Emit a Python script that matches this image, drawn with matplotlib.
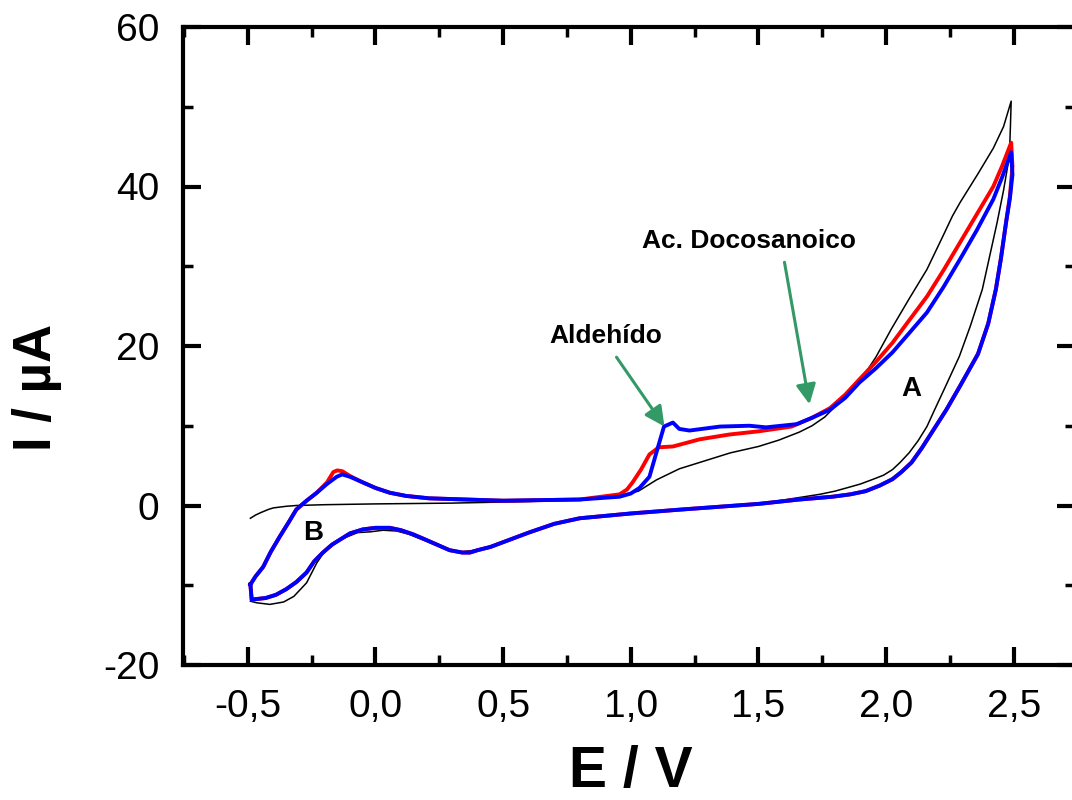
import matplotlib
matplotlib.use("Agg")
import matplotlib.pyplot as plt
from matplotlib.ticker import MultipleLocator, FuncFormatter

plt.rcParams['font.family'] = ['Liberation Sans', 'DejaVu Sans']

# ---- data ----
black_E = [-0.49, -0.47, -0.45, -0.42, -0.40, -0.35, -0.31, -0.20, 0.00, 0.30, 0.60, 0.80, 0.95, 1.03,
           1.10, 1.19, 1.30, 1.39, 1.50, 1.58, 1.66, 1.71, 1.76, 1.80, 1.85, 1.90, 1.96, 2.02, 2.09,
           2.16, 2.22, 2.26, 2.29, 2.36, 2.42, 2.46, 2.49,
           2.487, 2.483, 2.46, 2.435, 2.377, 2.33, 2.287, 2.228, 2.19, 2.16, 2.125, 2.09, 2.055,
           2.025, 1.99, 1.95, 1.90, 1.856, 1.80, 1.74, 1.66,
           1.50, 1.20, 1.00, 0.80, 0.70, 0.60, 0.50, 0.447, 0.39, 0.34, 0.28, 0.185, 0.13, 0.083,
           0.03, -0.02, -0.07, -0.14, -0.20, -0.23, -0.27, -0.32, -0.36, -0.414, -0.465, -0.49]
black_I = [-1.6, -1.2, -0.9, -0.5, -0.3, -0.1, 0.0, 0.1, 0.2, 0.3, 0.5, 0.7, 1.2, 1.8,
           3.2, 4.6, 5.7, 6.6, 7.4, 8.2, 9.2, 10.0, 11.1, 12.4, 13.9, 15.7, 18.6, 22.1, 25.9,
           29.6, 33.6, 36.3, 38.0, 41.6, 44.8, 47.5, 50.7,
           47.5, 43.8, 39.5, 35.5, 27.1, 22.5, 18.7, 14.6, 12.0, 9.9, 8.1, 6.6, 5.4,
           4.5, 3.8, 3.3, 2.7, 2.3, 1.8, 1.4, 1.0,
           0.2, -0.5, -1.0, -1.6, -2.3, -3.4, -4.6, -5.1, -5.6, -5.8, -5.5, -4.3, -3.6, -3.2,
           -3.1, -3.3, -3.4, -4.3, -5.8, -7.2, -9.7, -11.4, -12.1, -12.4, -12.2, -12.0]

red_E = [-0.49, -0.47, -0.44, -0.41, -0.375, -0.34, -0.31, -0.27, -0.23, -0.19, -0.165, -0.15,
         -0.13, -0.10, -0.05, 0.00, 0.056, 0.12, 0.21, 0.50, 0.80,
         0.956, 0.985, 1.007, 1.04, 1.073, 1.11, 1.165, 1.27, 1.386, 1.50, 1.63, 1.71, 1.78,
         1.84, 1.895, 1.96, 2.025, 2.09, 2.16, 2.225, 2.29, 2.355, 2.42, 2.455, 2.49,
         2.495, 2.485, 2.47, 2.45, 2.43, 2.40, 2.36, 2.325, 2.29, 2.236, 2.18, 2.14, 2.10, 2.06,
         2.025, 1.975, 1.92, 1.86, 1.79, 1.66,
         1.50, 1.20, 1.00, 0.80, 0.70, 0.60, 0.50, 0.45, 0.40, 0.37, 0.34, 0.29, 0.24, 0.19,
         0.146, 0.10, 0.056, 0.00, -0.05, -0.10, -0.14, -0.17, -0.206, -0.24, -0.27, -0.31,
         -0.35, -0.39, -0.43, -0.485, -0.49]
red_I = [-9.9, -8.9, -7.7, -5.8, -3.9, -2.1, -0.5, 0.6, 1.6, 2.9, 4.2, 4.4,
         4.3, 3.7, 2.9, 2.2, 1.6, 1.2, 0.9, 0.6, 0.75,
         1.4, 2.0, 2.9, 4.5, 6.4, 7.3, 7.4, 8.3, 8.9, 9.3, 9.9, 11.0, 12.2,
         13.9, 15.8, 18.0, 20.4, 23.2, 26.2, 29.5, 33.0, 36.5, 40.0, 42.6, 45.5,
         42.5, 38.8, 35.5, 31.0, 27.1, 22.8, 19.0, 17.0, 15.0, 12.0, 9.2, 7.2, 5.4, 4.2,
         3.3, 2.5, 1.8, 1.4, 1.1, 0.75,
         0.2, -0.5, -1.0, -1.6, -2.3, -3.4, -4.6, -5.2, -5.6, -5.9, -5.9, -5.6, -4.9, -4.2,
         -3.6, -3.1, -2.8, -2.8, -3.0, -3.5, -4.3, -4.9, -5.9, -7.0, -8.4, -9.6,
         -10.5, -11.2, -11.6, -11.8, -9.9]

blue_E = [-0.49, -0.47, -0.44, -0.41, -0.375, -0.34, -0.31, -0.27, -0.23, -0.19, -0.152, -0.13,
          -0.10, -0.05, 0.00, 0.056, 0.12, 0.21, 0.50, 0.80,
          0.956, 1.00, 1.034, 1.073, 1.10, 1.13, 1.165, 1.19, 1.23, 1.35, 1.465, 1.53, 1.65, 1.71,
          1.78, 1.84, 1.895, 1.96, 2.025, 2.09, 2.16, 2.225, 2.29, 2.355, 2.42, 2.455, 2.49,
          2.495, 2.485, 2.47, 2.45, 2.43, 2.40, 2.36, 2.325, 2.29, 2.236, 2.18, 2.14, 2.10, 2.06,
          2.025, 1.975, 1.92, 1.86, 1.79, 1.66,
          1.50, 1.20, 1.00, 0.80, 0.70, 0.60, 0.50, 0.45, 0.40, 0.37, 0.34, 0.29, 0.24, 0.19,
          0.146, 0.10, 0.056, 0.00, -0.05, -0.10, -0.14, -0.17, -0.206, -0.24, -0.27, -0.31,
          -0.35, -0.39, -0.43, -0.485, -0.49]
blue_I = [-9.9, -8.9, -7.7, -5.8, -3.9, -2.1, -0.5, 0.6, 1.6, 2.7, 3.6, 3.9,
          3.6, 2.9, 2.2, 1.6, 1.2, 0.9, 0.6, 0.75,
          1.1, 1.5, 2.2, 3.6, 6.6, 9.9, 10.4, 9.6, 9.4, 9.9, 10.0, 9.8, 10.2, 11.0,
          12.0, 13.5, 15.4, 17.2, 19.2, 21.6, 24.2, 27.4, 30.9, 34.5, 38.4, 41.2, 44.3,
          41.5, 38.5, 35.5, 31.0, 27.1, 22.8, 19.0, 17.0, 15.0, 12.0, 9.2, 7.2, 5.4, 4.2,
          3.3, 2.5, 1.8, 1.4, 1.1, 0.75,
          0.2, -0.5, -1.0, -1.6, -2.3, -3.4, -4.6, -5.2, -5.6, -5.9, -5.9, -5.6, -4.9, -4.2,
          -3.6, -3.1, -2.8, -2.8, -3.0, -3.5, -4.3, -4.9, -5.9, -7.0, -8.4, -9.6,
          -10.5, -11.2, -11.6, -11.8, -9.9]

x_ticks = [-0.5, 0.0, 0.5, 1.0, 1.5, 2.0, 2.5]
y_ticks = [-20, 0, 20, 40, 60]

# ---- figure ----
fig = plt.figure(figsize=(10.72, 8.0), dpi=100)
ax = fig.add_axes([183/1072, 1-665/800, (1075-183)/1072, (665-27)/800])

ax.plot(black_E, black_I, color='black', lw=1.1, solid_joinstyle='round')
ax.plot(red_E, red_I, color='#ff0000', lw=2.8, solid_joinstyle='round')
ax.plot(blue_E, blue_I, color='#0000ff', lw=2.8, solid_joinstyle='round')

ax.set_xlim(-0.754, 2.74)
ax.set_ylim(-20, 60)
ax.set_xticks(x_ticks)
ax.set_yticks(y_ticks)
ax.xaxis.set_minor_locator(MultipleLocator(0.25))
ax.yaxis.set_minor_locator(MultipleLocator(10))
ax.xaxis.set_major_formatter(FuncFormatter(lambda v, p: f"{v:.1f}".replace('.', ',')))
ax.yaxis.set_major_formatter(FuncFormatter(lambda v, p: f"{v:.0f}"))

for s in ax.spines.values():
    s.set_linewidth(3.0)
ax.tick_params(which='both', direction='in', top=True, right=True)
ax.tick_params(which='major', length=13, width=3.0, labelsize=28, pad=17)
ax.tick_params(which='minor', length=7, width=2.5)

fig.text(37/1072, 1-387/800, 'I / µA', rotation=90, ha='center', va='center',
         fontsize=38, fontweight='bold')
fig.text(631/1072, 1/800, 'E / V', ha='center', va='bottom',
         fontsize=41, fontweight='bold')

green = '#339966'
ax.annotate('', xy=(1.132, 9.9), xytext=(0.944, 18.6),
            arrowprops=dict(arrowstyle='-|>', color=green, lw=2.2, mutation_scale=30,
                            shrinkA=0, shrinkB=0))
ax.annotate('', xy=(1.70, 12.7), xytext=(1.602, 30.5),
            arrowprops=dict(arrowstyle='-|>', color=green, lw=2.2, mutation_scale=30,
                            shrinkA=0, shrinkB=0))
ax.text(0.901, 21.2, 'Aldehído', ha='center', va='center', fontsize=19, fontweight='bold')
ax.text(1.465, 33.2, 'Ac. Docosanoico', ha='center', va='center', fontsize=19, fontweight='bold')
ax.text(2.10, 14.6, 'A', ha='center', va='center', fontsize=20, fontweight='bold')
ax.text(-0.245, -3.4, 'B', ha='center', va='center', fontsize=20, fontweight='bold')

fig.savefig('out.png', dpi=100)
